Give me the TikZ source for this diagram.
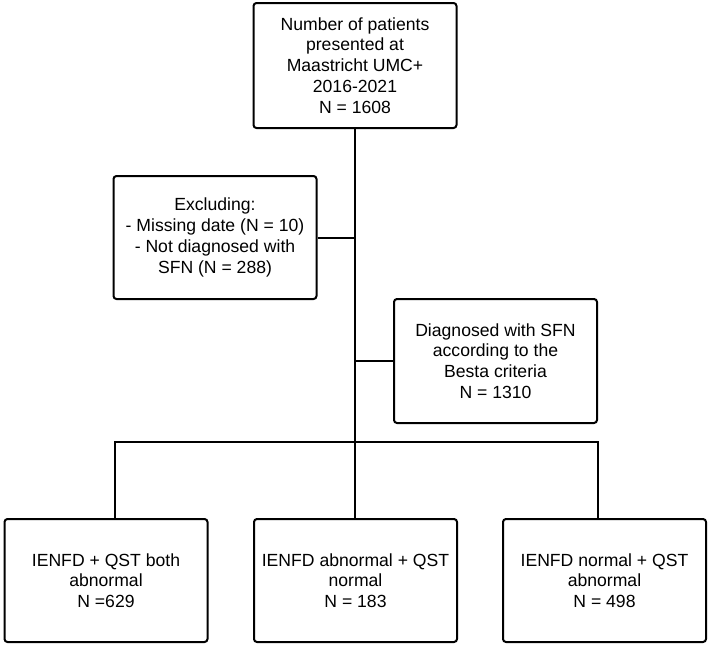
\documentclass[tikz,border=0pt]{standalone}
\usepackage{fontspec}
\setmainfont{Liberation Sans}

\tikzset{
  flowbox/.style={draw, line width=2pt, rounded corners=3pt, align=center,
    minimum width=203pt, minimum height=123pt, inner sep=0pt,
    font=\fontsize{17.6}{20.8}\selectfont},
  link/.style={line width=2pt}
}

\begin{document}
\begin{tikzpicture}
    \pgfsetxvec{\pgfpoint{1pt}{0}}
    \pgfsetyvec{\pgfpoint{0}{-1pt}}
    \useasboundingbox (0,0) rectangle (709,646);

    \node[flowbox, minimum height=125pt] (total) at (355,65.5)
      {Number of patients\\presented at\\Maastricht UMC+\\2016-2021\\N = 1608};
    \node[flowbox] (excl) at (215,237.5)
      {Excluding:\\- Missing date (N = 10)\\- Not diagnosed with\\SFN (N = 288)};
    \node[flowbox, minimum height=124pt] (sfn) at (495.5,361)
      {Diagnosed with SFN\\according to the\\Besta criteria\\N = 1310};
    \foreach \n/\x/\t in {both/106/{IENFD + QST both\\abnormal\\N =629},
                          ienfd/355.5/{IENFD abnormal + QST\\normal\\N = 183},
                          qst/604.5/{IENFD normal + QST\\abnormal\\N = 498}} {
      \node[flowbox] (\n) at (\x,580.5) {\t};
    }

    \coordinate (split) at (355,442);
    \draw[link] (total.south) -- (split);
    \draw[link] (excl.east) -- (excl.east -| split);
    \draw[link] (sfn.west) -- (sfn.west -| split);
    \draw[link] ([xshift=9]both.north) |- (split) -| ([xshift=-6.5]qst.north);
    \draw[link] (split) -- (split |- ienfd.north);
\end{tikzpicture}
\end{document}
